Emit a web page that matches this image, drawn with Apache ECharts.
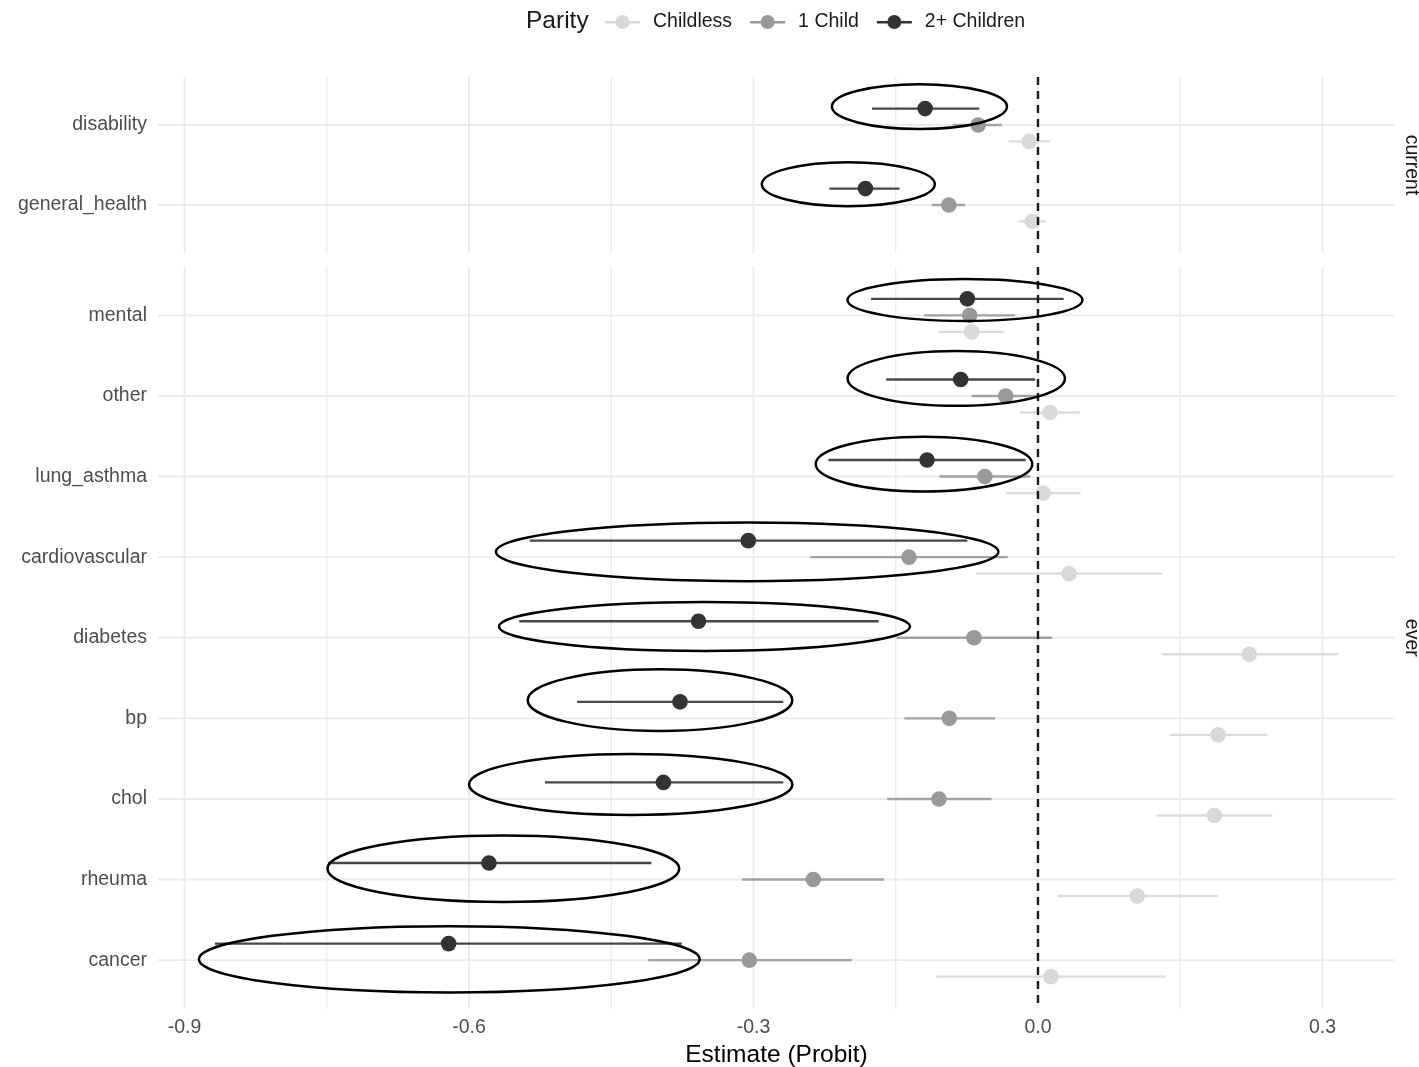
<!DOCTYPE html>
<html><head><meta charset="utf-8">
<script src="https://cdn.jsdelivr.net/npm/echarts@6/dist/echarts.min.js"></script>
<style>html,body{margin:0;padding:0;background:#fff}#c{width:1419px;height:1067px}</style>
</head><body><div id="c"></div>
<script>
// ---------------- DATA ----------------
const facetNames = ['current', 'ever'];
const catsCurrent = ['disability', 'general_health'];
const catsEver = ['mental', 'other', 'lung_asthma', 'cardiovascular', 'diabetes', 'bp', 'chol', 'rheuma', 'cancer'];
const groups = ['Childless', '1 Child', '2+ Children'];

// order: disability, general_health, mental, other, lung_asthma, cardiovascular, diabetes, bp, chol, rheuma, cancer
const childlessEst = [-0.0095, -0.006, -0.070, 0.0127, 0.0056, 0.0327, 0.2229, 0.190, 0.186, 0.1047, 0.0137];
const childlessLo  = [-0.031, -0.020, -0.105, -0.019, -0.034, -0.065, 0.1305, 0.139, 0.125, 0.0204, -0.107];
const childlessHi  = [0.013, 0.008, -0.036, 0.044, 0.045, 0.131, 0.3167, 0.242, 0.247, 0.190, 0.1347];

const oneChildEst = [-0.063, -0.094, -0.072, -0.034, -0.056, -0.136, -0.0675, -0.0935, -0.1044, -0.237, -0.3044];
const oneChildLo  = [-0.090, -0.112, -0.120, -0.070, -0.104, -0.240, -0.149, -0.141, -0.159, -0.312, -0.411];
const oneChildHi  = [-0.038, -0.077, -0.024, 0.000, -0.008, -0.032, 0.015, -0.0453, -0.049, -0.1624, -0.1965];

const twoPlusEst = [-0.119, -0.182, -0.0745, -0.0815, -0.117, -0.3055, -0.358, -0.3775, -0.395, -0.579, -0.6215];
const twoPlusLo  = [-0.175, -0.220, -0.176, -0.160, -0.221, -0.536, -0.547, -0.486, -0.520, -0.7485, -0.868];
const twoPlusHi  = [-0.062, -0.146, 0.027, -0.003, -0.013, -0.0745, -0.168, -0.2686, -0.2686, -0.4077, -0.3756];

// highlight ellipses around the 2+ Children estimates (data units: estimate axis / category units)
const ellipseCenterX = [-0.125, -0.200, -0.077, -0.0862, -0.1202, -0.3067, -0.3517, -0.3986, -0.4295, -0.5638, -0.6208];
const ellipseHalfW   = [0.0923, 0.0912, 0.1239, 0.1146, 0.1142, 0.2649, 0.2167, 0.1395, 0.1705, 0.1855, 0.264];
const ellipseCenterY = [-0.23, -0.26, -0.19, -0.217, -0.155, -0.066, -0.14, -0.226, -0.18, -0.134, -0.01];
const ellipseHalfH   = [0.28, 0.275, 0.26, 0.34, 0.34, 0.364, 0.304, 0.382, 0.378, 0.412, 0.412];

const xTickValues = [-0.9, -0.6, -0.3, 0.0, 0.3];
const xMinorValues = [-0.75, -0.45, -0.15, 0.15];
const refLineValue = 0;
const xTitle = 'Estimate (Probit)';
const legendTitle = 'Parity';

// ---------------- STYLE ----------------
const FONT = '"Liberation Sans", Arial, Helvetica, sans-serif';
const colors = {
  'Childless':   { pt: '#d9d9d9', ln: '#dcdcdc' },
  '1 Child':     { pt: '#999999', ln: '#a2a2a2' },
  '2+ Children': { pt: '#333333', ln: '#474747' }
};
const dodge = { 'Childless': 0.205, '1 Child': 0, '2+ Children': -0.205 };
const groupData = {
  'Childless':   [childlessEst, childlessLo, childlessHi],
  '1 Child':     [oneChildEst, oneChildLo, oneChildHi],
  '2+ Children': [twoPlusEst, twoPlusLo, twoPlusHi]
};
const panels = [
  { cats: catsCurrent, offset: 0 },
  { cats: catsEver, offset: catsCurrent.length }
];
const xMin = -0.928, xMax = 0.3765;
const gridLeft = 158, gridWidth = 1237;
const grids = [
  { left: gridLeft, width: gridWidth, top: 77, height: 176, outerBoundsMode: 'none', containLabel: false },
  { left: gridLeft, width: gridWidth, top: 267, height: 741.5, outerBoundsMode: 'none', containLabel: false }
];

const chart = echarts.init(document.getElementById('c'), null, { renderer: 'canvas' });

function rangeRender(g) {
  return function (params, api) {
    const y = api.value(0) + dodge[g];
    const pLo = api.coord([api.value(2), y]);
    const pHi = api.coord([api.value(3), y]);
    const p = api.coord([api.value(1), y]);
    return {
      type: 'group',
      children: [
        { type: 'line', shape: { x1: pLo[0], y1: pLo[1], x2: pHi[0], y2: pHi[1] },
          style: { stroke: colors[g].ln, lineWidth: 2.4 } },
        { type: 'circle', shape: { cx: p[0], cy: p[1], r: 7.8 },
          style: { fill: colors[g].pt } }
      ]
    };
  };
}

function gridRender(nCats) {
  return function (params, api) {
    const children = [];
    const yTop = -0.6, yBot = nCats - 1 + 0.6;
    xTickValues.concat(xMinorValues).forEach(function (v) {
      const a = api.coord([v, yTop]), b = api.coord([v, yBot]);
      const major = xTickValues.indexOf(v) >= 0;
      children.push({ type: 'line', shape: { x1: a[0], y1: a[1], x2: b[0], y2: b[1] },
        style: { stroke: '#ebebeb', lineWidth: major ? 1.9 : 1.3 } });
    });
    for (let i = 0; i < nCats; i++) {
      const a = api.coord([xMin, i]), b = api.coord([xMax, i]);
      children.push({ type: 'line', shape: { x1: a[0], y1: a[1], x2: b[0], y2: b[1] },
        style: { stroke: '#ebebeb', lineWidth: 1.9 } });
    }
    return { type: 'group', children: children };
  };
}

function refRender(nCats) {
  return function (params, api) {
    const a = api.coord([refLineValue, -0.6]), b = api.coord([refLineValue, nCats - 1 + 0.6]);
    return { type: 'line', shape: { x1: a[0], y1: a[1], x2: b[0], y2: b[1] },
      style: { stroke: '#1a1a1a', lineWidth: 2.4, lineDash: [8, 6] } };
  };
}

function ellipseRender(params, api) {
  const idx = api.value(0);
  const c = api.coord([api.value(1), idx + api.value(3)]);
  const rx = api.size([api.value(2), 0])[0];
  const ry = api.size([0, api.value(4)])[1];
  return { type: 'ellipse', shape: { cx: c[0], cy: c[1], rx: rx, ry: ry },
    style: { fill: null, stroke: '#000', lineWidth: 2.5 } };
}

const xAxes = [], yAxes = [], series = [];
panels.forEach(function (pn, k) {
  const n = pn.cats.length;
  xAxes.push({
    gridIndex: k, type: 'value', min: xMin, max: xMax,
    axisLine: { show: false }, axisTick: { show: false }, splitLine: { show: false },
    axisLabel: k === 1 ? {
      show: true, customValues: xTickValues, margin: 9,
      formatter: function (v) { return (Math.abs(v) < 1e-9 ? 0 : v).toFixed(1); },
      fontFamily: FONT, fontSize: 19.5, color: '#4d4d4d'
    } : { show: false },
    name: k === 1 ? xTitle : '',
    nameLocation: 'middle', nameGap: 32,
    nameTextStyle: { fontFamily: FONT, fontSize: 24.5, color: '#000' }
  });
  yAxes.push({
    gridIndex: k, type: 'value', inverse: true, min: -0.6, max: n - 1 + 0.6,
    axisLine: { show: false }, axisTick: { show: false }, splitLine: { show: false },
    axisLabel: {
      customValues: pn.cats.map(function (c, i) { return i; }), margin: 11,
      formatter: function (v) { return pn.cats[Math.round(v)]; },
      fontFamily: FONT, fontSize: 19.5, color: '#4d4d4d', padding: [3, 0, 0, 0]
    }
  });
  series.push({
    type: 'custom', name: 'grid' + k, xAxisIndex: k, yAxisIndex: k, z: 1, silent: true,
    renderItem: gridRender(n), data: [[0, 0]], encode: { x: 0, y: 1 }, tooltip: { show: false }
  });
  groups.forEach(function (g) {
    const arrs = groupData[g];
    const data = pn.cats.map(function (c, i) {
      const j = pn.offset + i;
      return [i, arrs[0][j], arrs[1][j], arrs[2][j]];
    });
    series.push({
      type: 'custom', name: g, xAxisIndex: k, yAxisIndex: k, z: 2,
      itemStyle: { color: colors[g].pt },
      renderItem: rangeRender(g), data: data,
      encode: { x: [1, 2, 3], y: 0 }
    });
  });
  series.push({
    type: 'custom', name: 'ref' + k, xAxisIndex: k, yAxisIndex: k, z: 3, silent: true,
    renderItem: refRender(n), data: [[0, 0]], encode: { x: 0, y: 1 }
  });
  series.push({
    type: 'custom', name: 'highlight' + k, xAxisIndex: k, yAxisIndex: k, z: 4, silent: true,
    renderItem: ellipseRender,
    data: pn.cats.map(function (c, i) {
      const j = pn.offset + i;
      return [i, ellipseCenterX[j], ellipseHalfW[j], ellipseCenterY[j], ellipseHalfH[j]];
    }),
    encode: { x: 1, y: 0 }
  });
});

const legendIcon = 'path://M0,6 H13 V8.4 H0 Z M22,6 H35 V8.4 H22 Z M17.5,0 A7,7 0 1 1 17.5,14 A7,7 0 1 1 17.5,0 Z';

chart.setOption({
  animation: false,
  backgroundColor: '#ffffff',
  grid: grids,
  xAxis: xAxes,
  yAxis: yAxes,
  legend: {
    left: 605, top: 12, padding: 0, itemWidth: 35, itemHeight: 14, itemGap: 18,
    icon: legendIcon,
    data: groups.map(function (g) { return { name: g, itemStyle: { color: colors[g].pt } }; }),
    textStyle: { fontFamily: FONT, fontSize: 19.5, color: '#1a1a1a', padding: [0, 0, 0, 8] }
  },
  graphic: [
    { type: 'text', left: 526, top: 9, style: { text: legendTitle, font: '24.5px ' + FONT, fill: '#1a1a1a' } },
    { type: 'text', x: 1411, y: grids[0].top + grids[0].height / 2, rotation: -Math.PI / 2,
      style: { text: facetNames[0], font: '19.5px ' + FONT, fill: '#1a1a1a', align: 'center', verticalAlign: 'middle' } },
    { type: 'text', x: 1411, y: grids[1].top + grids[1].height / 2, rotation: -Math.PI / 2,
      style: { text: facetNames[1], font: '19.5px ' + FONT, fill: '#1a1a1a', align: 'center', verticalAlign: 'middle' } }
  ],
  series: series
});
</script>
</body></html>
